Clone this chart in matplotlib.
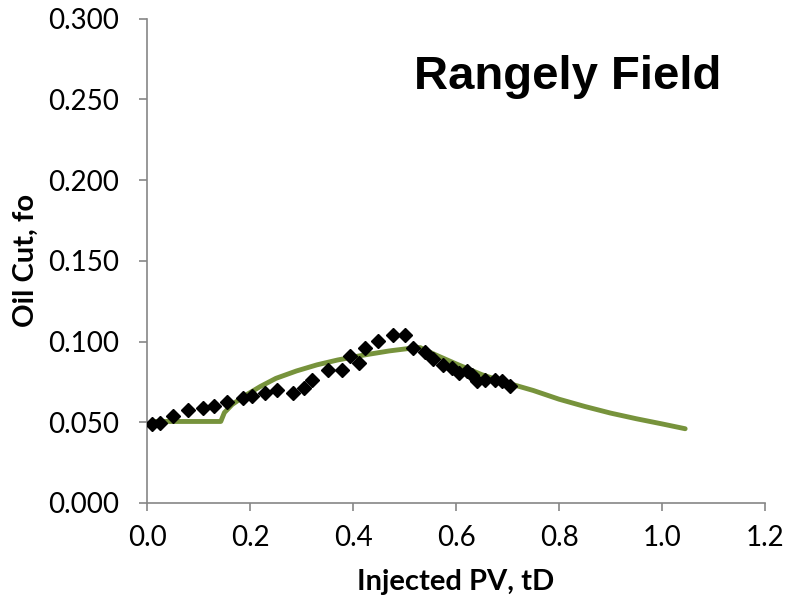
import matplotlib
matplotlib.use("Agg")
import matplotlib.pyplot as plt

# measured field data (injected PV vs oil cut)
field_td = [0.009, 0.025, 0.051, 0.080, 0.108, 0.129, 0.155, 0.187, 0.203, 0.229,
            0.252, 0.283, 0.304, 0.320, 0.352, 0.378, 0.394, 0.412, 0.423, 0.449,
            0.477, 0.501, 0.516, 0.540, 0.556, 0.575, 0.592, 0.605, 0.621, 0.631,
            0.640, 0.656, 0.676, 0.689, 0.705]
field_fo = [0.049, 0.0495, 0.0536, 0.0573, 0.059, 0.0598, 0.0623, 0.0648, 0.066, 0.068,
            0.0702, 0.068, 0.0712, 0.076, 0.0822, 0.0826, 0.0909, 0.0868, 0.096, 0.1002,
            0.1043, 0.1043, 0.096, 0.0934, 0.0892, 0.0857, 0.0837, 0.0806, 0.0816, 0.0795,
            0.0753, 0.0764, 0.0764, 0.0753, 0.0727]

# model curve
model_td = [0.01, 0.143, 0.150, 0.165, 0.19, 0.22, 0.25, 0.29, 0.33, 0.37, 0.42, 0.47,
            0.51, 0.53, 0.56, 0.60, 0.65, 0.70, 0.75, 0.80, 0.85, 0.90, 0.95, 1.00, 1.045]
model_fo = [0.0505, 0.0505, 0.056, 0.061, 0.0665, 0.0722, 0.0772, 0.0818, 0.0856, 0.0886,
            0.0916, 0.0942, 0.0958, 0.0963, 0.0918, 0.0862, 0.0795, 0.0743, 0.0697, 0.0643,
            0.0598, 0.0557, 0.0522, 0.049, 0.046]

x_ticks = [0.0, 0.2, 0.4, 0.6, 0.8, 1.0, 1.2]
y_ticks = [0.0, 0.05, 0.10, 0.15, 0.20, 0.25, 0.30]

fig = plt.figure(figsize=(7.87, 6.06), dpi=100)
ax = fig.add_axes([0.187, 0.170, 0.785, 0.799])

ax.plot(model_td, model_fo, color="#77933C", linewidth=3.5, solid_capstyle="round",
        solid_joinstyle="round", zorder=2)
ax.plot(field_td, field_fo, linestyle="none", marker="D", markersize=7.5,
        color="black", zorder=3)

ax.set_xlim(0, 1.2)
ax.set_ylim(0, 0.3)
ax.set_xticks(x_ticks)
ax.set_yticks(y_ticks)
ax.set_xticklabels([f"{v:.1f}" for v in x_ticks], fontfamily="Lato", fontsize=20)
ax.set_yticklabels([f"{v:.3f}" for v in y_ticks], fontfamily="Lato", fontsize=20)

for s in ["top", "right"]:
    ax.spines[s].set_visible(False)
for s in ["left", "bottom"]:
    ax.spines[s].set_color("#868686")
    ax.spines[s].set_linewidth(1.2)
ax.tick_params(axis="y", direction="out", length=6, width=1.2, color="#868686", pad=14)
ax.tick_params(axis="x", direction="out", length=6, width=1.2, color="#868686", pad=10)

ax.set_xlabel("Injected PV, tD", fontfamily="Lato", fontweight="bold", fontsize=21, labelpad=13)
ax.set_ylabel("Oil Cut, fo", fontfamily="Lato", fontweight="bold", fontsize=21, labelpad=7)

ax.text(0.930, 0.880, "Rangely Field", transform=ax.transAxes, ha="right", va="center",
        fontfamily="Liberation Sans", fontweight="bold", fontsize=34)

fig.savefig("out.png", dpi=100)
